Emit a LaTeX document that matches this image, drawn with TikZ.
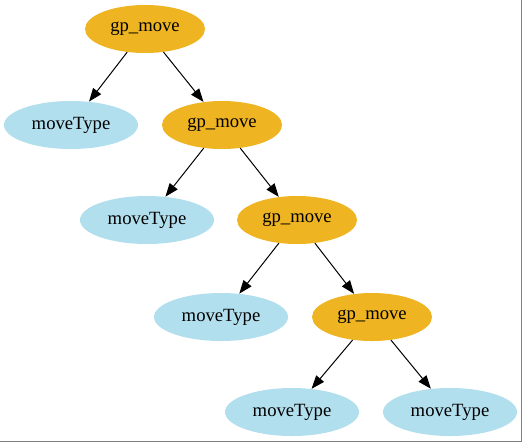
\documentclass[tikz,border=0pt]{standalone}
\usepackage{fontspec}
\setmainfont{Liberation Serif}
\usetikzlibrary{shapes.geometric,arrows.meta}
\definecolor{gpfill}{HTML}{EEB422}
\definecolor{mtfill}{HTML}{B2DFEE}
\definecolor{framegray}{HTML}{808080}
\tikzset{
  gpnode/.style={ellipse, fill=gpfill, draw=none, minimum width=90pt, minimum height=36pt, inner sep=0pt, font=\fontsize{14pt}{16pt}\selectfont},
  mtnode/.style={ellipse, fill=mtfill, draw=none, minimum width=100.5pt, minimum height=36pt, inner sep=0pt, font=\fontsize{14pt}{16pt}\selectfont},
  link/.style={draw=black, line width=0.75pt, -{Triangle[length=10pt, width=7.5pt]}}
}
\begin{document}
\begin{tikzpicture}[x=0.75pt, y=-0.75pt]
  \useasboundingbox (0,0) rectangle (523,443);
  % frame on the right and bottom edges
  \draw[framegray, line width=0.9pt] (521.5,0) -- (521.5,441.5) -- (0,441.5);

  \node[gpnode] (g1) at (145,29) {gp\_move};
  \node[mtnode] (m1) at (71,125) {moveType};
  \node[gpnode] (g2) at (222,125) {gp\_move};
  \node[mtnode] (m2) at (147,220) {moveType};
  \node[gpnode] (g3) at (297,220) {gp\_move};
  \node[mtnode] (m3) at (221,317) {moveType};
  \node[gpnode] (g4) at (372,317) {gp\_move};
  \node[mtnode] (m4) at (292,412) {moveType};
  \node[mtnode] (m5) at (450,412) {moveType};

  \draw[link] (g1) -- (m1);
  \draw[link] (g1) -- (g2);
  \draw[link] (g2) -- (m2);
  \draw[link] (g2) -- (g3);
  \draw[link] (g3) -- (m3);
  \draw[link] (g3) -- (g4);
  \draw[link] (g4) -- (m4);
  \draw[link] (g4) -- (m5);
\end{tikzpicture}
\end{document}
